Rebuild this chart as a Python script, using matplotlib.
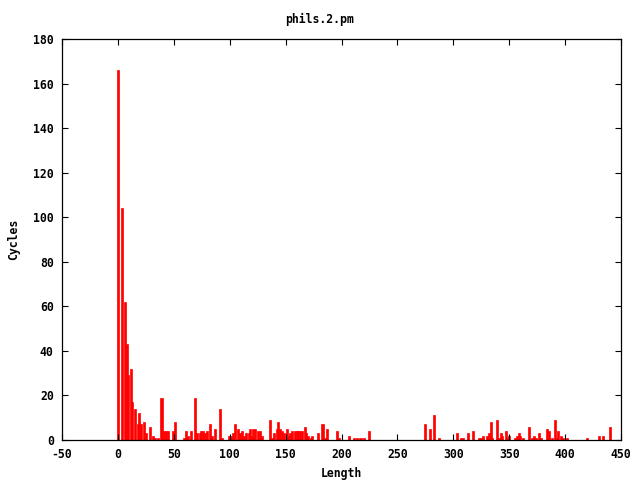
import matplotlib
matplotlib.use("Agg")
import matplotlib.pyplot as plt

title = "phils.2.pm"
x_label = "Length"
y_label = "Cycles"

lengths = [0, 4, 6, 8, 9, 12, 13, 15, 18, 19, 21, 23, 25, 29, 31, 33, 36, 39, 41, 43, 45,
           49, 51, 59, 61, 63, 65, 69, 71, 73, 74, 76, 78, 80, 82, 84, 87, 91, 93, 99,
           101, 103, 105, 107, 109, 111, 113, 115, 117, 118, 120, 121, 123, 125, 127, 129,
           136, 138, 140, 142, 143, 145, 147, 149, 151, 152, 154, 156, 158, 160, 161, 163,
           165, 167, 168, 170, 173, 174, 179, 183, 185, 187, 196, 198, 207, 211, 214, 217,
           220, 225, 275, 279, 283, 287, 303, 307, 309, 313, 318, 323, 325, 327, 330, 332,
           334, 335, 339, 341, 343, 344, 347, 349, 350, 355, 357, 359, 360, 362, 368, 370,
           372, 374, 377, 378, 384, 386, 388, 391, 393, 394, 396, 398, 402, 420, 430, 434,
           440]
cycles = [166, 104, 62, 43, 29, 32, 17, 14, 7, 12, 7, 8, 3, 6, 2, 1, 1, 19, 4, 4, 4,
          4, 8, 1, 4, 2, 4, 19, 3, 3, 4, 4, 3, 4, 7, 2, 5, 14, 1, 2,
          2, 3, 7, 5, 3, 4, 2, 3, 3, 5, 2, 5, 5, 4, 4, 2,
          9, 1, 3, 5, 8, 5, 4, 3, 5, 2, 3, 4, 4, 4, 4, 4,
          4, 6, 3, 2, 1, 2, 3, 7, 1, 5, 4, 1, 2, 1, 1, 1,
          1, 4, 7, 5, 11, 1, 3, 1, 1, 3, 4, 1, 1, 2, 2, 3,
          8, 1, 9, 1, 3, 2, 4, 1, 2, 1, 2, 3, 2, 1, 6, 1,
          2, 1, 3, 1, 5, 4, 1, 9, 1, 4, 2, 1, 1, 1, 2, 2,
          6]

x_ticks = [-50, 0, 50, 100, 150, 200, 250, 300, 350, 400, 450]
y_ticks = [0, 20, 40, 60, 80, 100, 120, 140, 160, 180]

font = {"family": "DejaVu Sans Mono", "weight": "bold", "size": 8.3}

fig = plt.figure(figsize=(6.4, 4.8), dpi=100)
ax = fig.add_axes([62 / 640, 40 / 480, (621 - 62) / 640, (440 - 39) / 480])

ax.bar(lengths, cycles, width=1.8, align="center", facecolor="#ff0000",
       edgecolor="#ff0000", linewidth=0.5)

ax.set_xlim(-50, 450)
ax.set_ylim(0, 180)
ax.set_xticks(x_ticks)
ax.set_yticks(y_ticks)
ax.set_xticklabels([str(t) for t in x_ticks], fontdict=font)
ax.set_yticklabels([str(t) for t in y_ticks], fontdict=font)
ax.tick_params(direction="in", length=4.5, width=0.8, top=True, right=True, pad=6, colors="black")
for s in ax.spines.values():
    s.set_linewidth(0.9)
    s.set_color("black")

ax.set_xlabel(x_label, fontdict=font, labelpad=4)
ax.set_ylabel(y_label, fontdict=font, labelpad=9)
fig.text(0.5, 1 - 19 / 480, title, ha="center", va="center", **font)

fig.savefig("out.png", dpi=100)
